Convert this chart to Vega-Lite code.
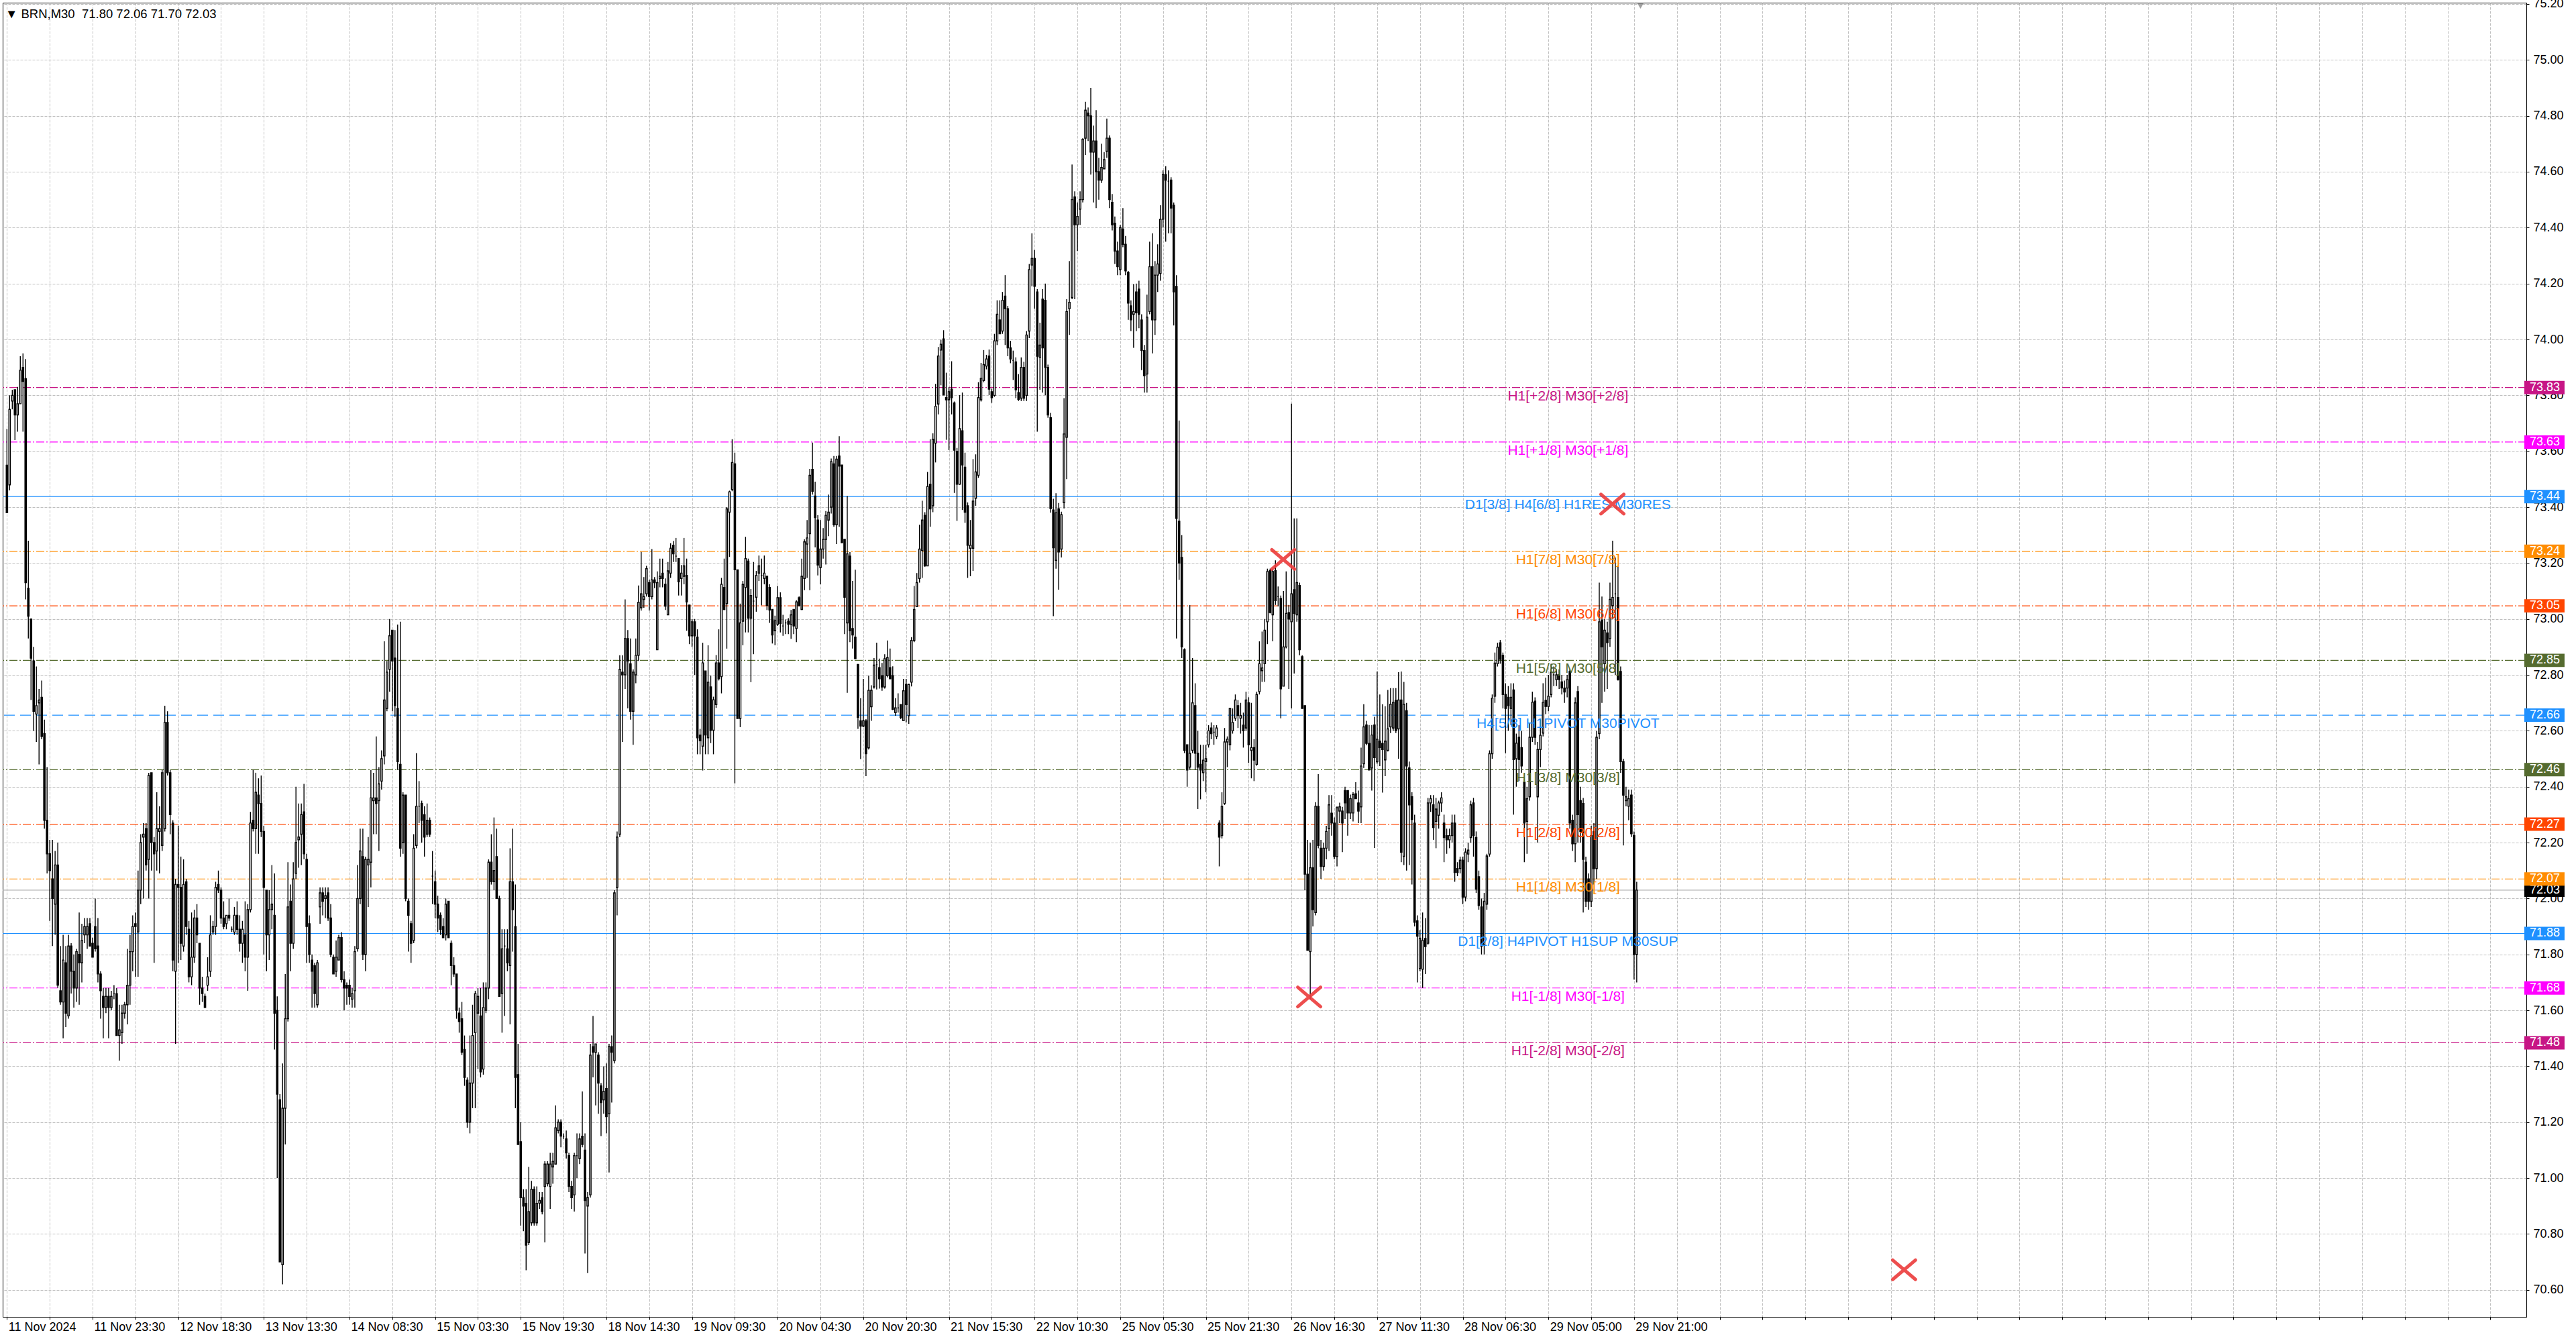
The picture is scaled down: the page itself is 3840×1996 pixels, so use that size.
{
  "$schema": "https://vega.github.io/schema/vega-lite/v6.json",
  "description": "BRN M30 candlesticks with Murrey math levels, recreated from an MT4 screenshot.",
  "width": 3762,
  "height": 1959,
  "autosize": {"type": "none"},
  "padding": {"left": 4, "top": 4, "right": 74, "bottom": 33},
  "background": "#ffffff",
  "title": {
    "text": "\u25bc BRN,M30\u00a0 71.80 72.06 71.70 72.03",
    "anchor": "start",
    "frame": "group",
    "offset": 0,
    "dy": 49,
    "baseline": "alphabetic",
    "dx": 4,
    "font": "Liberation Sans, sans-serif",
    "fontSize": 18.5,
    "fontWeight": "normal",
    "color": "#000000"
  },
  "config": {
    "view": {"stroke": "#000000", "strokeWidth": 1},
    "axis": {
      "labelFont": "Liberation Sans, sans-serif",
      "labelFontSize": 18,
      "labelColor": "#000000",
      "domainColor": "#000000",
      "tickColor": "#000000",
      "gridColor": "#c0c0c0",
      "title": null
    }
  },
  "layer": [
    {
      "data": {"values": [
        {"p": 73.828, "name": "H1[+2/8] M30[+2/8]"},
        {"p": 73.633, "name": "H1[+1/8] M30[+1/8]"},
        {"p": 73.438, "name": "D1[3/8] H4[6/8] H1RES M30RES"},
        {"p": 73.242, "name": "H1[7/8] M30[7/8]"},
        {"p": 73.047, "name": "H1[6/8] M30[6/8]"},
        {"p": 72.852, "name": "H1[5/8] M30[5/8]"},
        {"p": 72.656, "name": "H4[5/8] H1PIVOT M30PIVOT"},
        {"p": 72.461, "name": "H1[3/8] M30[3/8]"},
        {"p": 72.266, "name": "H1[2/8] M30[2/8]"},
        {"p": 72.070, "name": "H1[1/8] M30[1/8]"},
        {"p": 71.875, "name": "D1[2/8] H4PIVOT H1SUP M30SUP"},
        {"p": 71.680, "name": "H1[-1/8] M30[-1/8]"},
        {"p": 71.484, "name": "H1[-2/8] M30[-2/8]"}
      ]},
      "mark": {"type": "rule", "strokeWidth": 1.2},
      "encoding": {
        "y": {
          "field": "p", "type": "quantitative",
          "scale": {"domain": [70.5035, 75.2047], "nice": false, "zero": false},
          "axis": {
            "orient": "right",
            "values": [70.6,70.8,71,71.2,71.4,71.6,71.8,72,72.2,72.4,72.6,72.8,73,73.2,73.4,73.6,73.8,74,74.2,74.4,74.6,74.8,75,75.2],
            "format": ".2f",
            "grid": true,
            "gridDash": [4, 2],
            "tickSize": 4,
            "labelPadding": 6,
            "labelAlign": "left",
            "labelBaseline": "middle",
            "labelFlush": false,
            "labelOverlap": false,
            "labelBound": false
          }
        },
        "color": {
          "field": "name", "type": "nominal", "legend": null,
          "scale": {
            "domain": ["H1[+2/8] M30[+2/8]","H1[+1/8] M30[+1/8]","D1[3/8] H4[6/8] H1RES M30RES","H1[7/8] M30[7/8]","H1[6/8] M30[6/8]","H1[5/8] M30[5/8]","H4[5/8] H1PIVOT M30PIVOT","H1[3/8] M30[3/8]","H1[2/8] M30[2/8]","H1[1/8] M30[1/8]","D1[2/8] H4PIVOT H1SUP M30SUP","H1[-1/8] M30[-1/8]","H1[-2/8] M30[-2/8]"],
            "range": ["#c71585","#ff00ff","#1e90ff","#ff8c00","#ff4500","#556b2f","#1e90ff","#556b2f","#ff4500","#ff8c00","#1e90ff","#ff00ff","#c71585"]
          }
        },
        "strokeDash": {
          "field": "name", "type": "nominal", "legend": null,
          "scale": {
            "domain": ["H1[+2/8] M30[+2/8]","H1[+1/8] M30[+1/8]","D1[3/8] H4[6/8] H1RES M30RES","H1[7/8] M30[7/8]","H1[6/8] M30[6/8]","H1[5/8] M30[5/8]","H4[5/8] H1PIVOT M30PIVOT","H1[3/8] M30[3/8]","H1[2/8] M30[2/8]","H1[1/8] M30[1/8]","D1[2/8] H4PIVOT H1SUP M30SUP","H1[-1/8] M30[-1/8]","H1[-2/8] M30[-2/8]"],
            "range": [[12,3,2,3],[12,3,2,3],[1,0],[12,3,2,3],[12,3,2,3],[12,3,2,3],[16,8],[12,3,2,3],[12,3,2,3],[12,3,2,3],[1,0],[12,3,2,3],[12,3,2,3]]
          }
        }
      }
    },
    {
      "data": {"values": [{"p": 72.03}]},
      "mark": {"type": "rule", "color": "#b0b0b0", "strokeWidth": 1.2},
      "encoding": {"y": {"field": "p", "type": "quantitative"}}
    },
    {
      "data": {
        "values": "i,o,h,l,c\n1,73.55,73.68,73.38,73.38\n2,73.48,73.80,73.46,73.75\n3,73.78,73.82,73.75,73.80\n4,73.82,73.82,73.64,73.73\n5,73.73,73.83,73.67,73.77\n6,73.77,73.94,73.77,73.89\n7,73.90,73.95,73.67,73.85\n8,73.86,73.93,73.07,73.13\n9,73.11,73.28,72.93,73.01\n10,73.00,73.00,72.71,72.86\n11,72.85,72.90,72.60,72.67\n12,72.66,72.83,72.56,72.69\n13,72.70,72.75,72.48,72.71\n14,72.72,72.78,72.57,72.58\n15,72.59,72.64,72.25,72.28\n16,72.28,72.47,72.09,72.16\n17,72.16,72.21,71.92,72.10\n18,72.07,72.21,71.83,72.00\n19,71.98,72.17,71.87,72.12\n20,72.12,72.20,71.68,71.69\n21,71.67,71.83,71.62,71.63\n22,71.63,71.87,71.50,71.78\n23,71.77,71.83,71.54,71.59\n24,71.58,71.87,71.57,71.83\n25,71.83,71.84,71.66,71.74\n26,71.74,71.80,71.61,71.68\n27,71.68,71.82,71.63,71.81\n28,71.80,71.95,71.62,71.77\n29,71.77,71.91,71.70,71.85\n30,71.87,71.93,71.84,71.90\n31,71.87,71.93,71.82,71.90\n32,71.91,71.93,71.83,71.83\n33,71.84,71.86,71.79,71.79\n34,71.90,72.00,71.81,71.82\n35,71.83,71.93,71.70,71.73\n36,71.73,71.74,71.57,71.67\n37,71.65,71.68,71.50,71.61\n38,71.61,71.68,71.59,71.65\n39,71.65,71.68,71.50,71.61\n40,71.61,71.67,71.60,71.65\n41,71.66,71.69,71.64,71.66\n42,71.66,71.68,71.51,71.51\n43,71.51,71.62,71.42,71.53\n44,71.52,71.62,71.48,71.59\n45,71.59,71.63,71.57,71.62\n46,71.62,71.82,71.55,71.69\n47,71.69,71.87,71.62,71.81\n48,71.81,71.94,71.74,71.90\n49,71.91,71.95,71.72,71.90\n50,71.88,72.10,71.72,72.03\n51,72.03,72.23,71.98,72.20\n52,72.22,72.27,72.00,72.23\n53,72.25,72.27,72.10,72.12\n54,72.14,72.45,72.00,72.44\n55,72.45,72.45,72.10,72.20\n56,72.20,72.22,71.77,72.16\n57,72.17,72.38,72.10,72.25\n58,72.24,72.33,72.09,72.25\n59,72.19,72.46,72.17,72.45\n60,72.25,72.69,72.24,72.63\n61,72.63,72.67,72.44,72.45\n62,72.45,72.46,72.23,72.30\n63,72.27,72.28,71.74,71.78\n64,71.74,72.07,71.48,72.05\n65,72.05,72.26,71.77,72.04\n66,72.04,72.15,71.78,71.84\n67,71.83,72.14,71.81,72.05\n68,72.06,72.07,71.87,71.90\n69,71.89,71.92,71.70,71.72\n70,71.72,71.95,71.69,71.79\n71,71.79,71.96,71.77,71.93\n72,71.93,71.98,71.84,71.87\n73,71.84,71.84,71.62,71.68\n74,71.68,71.72,71.63,71.66\n75,71.65,71.66,71.61,71.61\n76,71.69,71.79,71.67,71.72\n77,71.74,71.94,71.72,71.87\n78,71.88,71.92,71.87,71.90\n79,71.90,72.06,71.87,72.04\n80,72.05,72.10,72.02,72.03\n81,72.03,72.04,71.91,71.93\n82,71.93,71.99,71.89,71.90\n83,71.91,71.94,71.89,71.94\n84,71.94,72.00,71.92,71.93\n85,71.89,71.90,71.88,71.89\n86,71.88,71.97,71.87,71.94\n87,71.94,71.99,71.87,71.89\n88,71.89,71.94,71.81,71.84\n89,71.84,71.92,71.77,71.89\n90,71.87,71.99,71.74,71.79\n91,71.79,71.98,71.67,71.96\n92,71.96,72.31,71.95,72.27\n93,72.28,72.46,72.24,72.25\n94,72.25,72.45,72.16,72.38\n95,72.37,72.43,72.16,72.34\n96,72.34,72.44,72.22,72.24\n97,72.24,72.26,71.80,72.04\n98,72.03,72.03,71.74,71.87\n99,71.87,72.03,71.78,71.96\n100,71.96,72.12,71.89,71.98\n101,71.94,72.09,71.46,71.59\n102,71.60,71.65,71.00,71.30\n103,71.28,71.30,70.70,70.70\n104,70.69,71.41,70.62,71.25\n105,71.25,71.73,71.12,71.57\n106,71.57,72.13,71.56,71.97\n107,71.99,72.05,71.74,71.84\n108,71.84,72.13,71.82,72.07\n109,72.09,72.40,72.07,72.20\n110,72.21,72.34,72.11,72.22\n111,72.23,72.34,72.12,72.30\n112,72.31,72.41,72.14,72.16\n113,72.14,72.16,71.77,71.90\n114,71.91,71.94,71.77,71.80\n115,71.78,71.80,71.61,71.74\n116,71.76,71.77,71.61,71.66\n117,71.62,71.78,71.61,71.77\n118,71.97,72.04,71.91,72.02\n119,72.02,72.04,71.94,71.99\n120,72.00,72.04,71.93,72.01\n121,72.02,72.04,71.92,71.93\n122,71.93,71.98,71.79,71.80\n123,71.79,71.80,71.73,71.73\n124,71.74,71.85,71.72,71.79\n125,71.78,71.87,71.78,71.86\n126,71.86,71.88,71.70,71.71\n127,71.71,71.74,71.60,71.68\n128,71.69,71.70,71.62,71.68\n129,71.69,71.71,71.62,71.65\n130,71.64,71.68,71.61,71.66\n131,71.67,71.83,71.61,71.81\n132,71.82,72.12,71.81,72.00\n133,72.00,72.25,71.98,72.17\n134,72.15,72.25,71.78,71.80\n135,71.80,72.15,71.74,72.14\n136,72.12,72.22,71.97,72.14\n137,72.13,72.46,72.04,72.36\n138,72.35,72.45,72.23,72.36\n139,72.36,72.58,72.23,72.34\n140,72.35,72.47,72.17,72.41\n141,72.42,72.53,72.39,72.50\n142,72.51,72.92,72.48,72.71\n143,72.68,72.85,72.67,72.81\n144,72.82,73.00,72.74,72.94\n145,72.96,72.96,72.67,72.85\n146,72.86,72.96,72.65,72.69\n147,72.68,72.98,72.46,72.49\n148,72.48,72.99,72.15,72.18\n149,72.20,72.38,72.16,72.37\n150,72.37,72.37,71.99,72.00\n151,71.99,72.00,71.81,71.94\n152,71.91,71.92,71.77,71.84\n153,71.85,72.23,71.84,72.18\n154,72.19,72.52,72.18,72.33\n155,72.33,72.42,72.27,72.33\n156,72.34,72.35,72.20,72.28\n157,72.30,72.33,72.15,72.22\n158,72.23,72.34,72.22,72.28\n159,72.28,72.29,72.22,72.23\n160,72.08,72.17,71.98,72.08\n161,72.06,72.10,71.93,71.98\n162,71.98,72.01,71.88,71.93\n163,71.94,71.95,71.87,71.89\n164,71.90,71.93,71.86,71.86\n165,71.87,72.00,71.85,71.98\n166,71.99,71.99,71.86,71.86\n167,71.84,71.85,71.69,71.76\n168,71.76,71.79,71.72,71.73\n169,71.73,71.73,71.57,71.60\n170,71.59,71.61,71.52,71.56\n171,71.57,71.63,71.44,71.45\n172,71.46,71.51,71.33,71.36\n173,71.35,71.36,71.18,71.20\n174,71.20,71.51,71.16,71.34\n175,71.34,71.62,71.25,71.51\n176,71.52,71.67,71.25,71.66\n177,71.59,71.68,71.39,71.65\n178,71.58,71.68,71.36,71.38\n179,71.39,71.70,71.37,71.61\n180,71.60,71.70,71.59,71.68\n181,71.68,72.14,71.64,72.13\n182,72.13,72.23,72.05,72.06\n183,72.06,72.29,72.03,72.10\n184,72.15,72.25,72.00,72.00\n185,72.00,72.01,71.65,71.65\n186,71.66,71.89,71.52,71.82\n187,71.83,71.89,71.58,71.83\n188,71.82,71.89,71.74,71.77\n189,71.76,72.18,71.55,72.06\n190,72.06,72.25,71.81,71.96\n191,71.90,72.05,71.25,71.36\n192,71.37,71.48,71.12,71.12\n193,71.13,71.20,70.83,70.93\n194,70.93,70.96,70.81,70.90\n195,70.91,70.96,70.67,70.76\n196,70.77,71.04,70.76,70.88\n197,70.84,70.99,70.83,70.96\n198,70.96,70.97,70.83,70.84\n199,70.84,70.97,70.83,70.91\n200,70.91,70.95,70.89,70.92\n201,70.93,70.95,70.87,70.88\n202,70.97,71.06,70.77,71.05\n203,70.98,71.06,70.97,71.05\n204,70.97,71.09,70.89,71.05\n205,71.04,71.09,70.98,71.06\n206,71.05,71.26,71.05,71.18\n207,71.17,71.21,71.16,71.20\n208,71.20,71.21,71.11,71.15\n209,71.15,71.16,71.14,71.15\n210,71.14,71.17,71.07,71.09\n211,71.08,71.09,70.95,70.97\n212,70.97,70.99,70.89,70.93\n213,70.94,71.09,70.88,71.08\n214,71.08,71.16,71.00,71.08\n215,71.07,71.16,71.05,71.14\n216,71.15,71.31,71.11,71.12\n217,71.10,71.16,70.73,70.92\n218,70.90,70.95,70.66,70.93\n219,70.94,71.48,70.93,71.44\n220,71.47,71.58,71.36,71.45\n221,71.45,71.48,71.26,71.48\n222,71.44,71.45,71.23,71.34\n223,71.33,71.34,71.15,71.27\n224,71.28,71.40,71.23,71.31\n225,71.32,71.41,71.16,71.22\n226,71.23,71.48,71.02,71.47\n227,71.47,71.51,71.27,71.45\n228,71.42,72.03,71.41,72.02\n229,72.04,72.24,71.94,72.22\n230,72.23,72.87,72.22,72.82\n231,72.81,72.87,72.56,72.80\n232,72.80,73.07,72.75,72.93\n233,72.93,72.96,72.68,72.85\n234,72.84,72.93,72.64,72.67\n235,72.67,72.82,72.55,72.81\n236,72.80,72.93,72.77,72.87\n237,72.87,73.12,72.85,73.06\n238,73.04,73.24,73.03,73.09\n239,73.07,73.15,73.04,73.08\n240,73.09,73.19,73.08,73.18\n241,73.13,73.14,73.03,73.08\n242,73.08,73.25,73.07,73.14\n243,73.14,73.15,73.11,73.13\n244,72.89,73.17,72.89,73.13\n245,73.145,73.216,73.113,73.153\n246,73.164,73.216,73.113,73.145\n247,73.124,73.145,73.032,73.046\n248,73.015,73.204,73.015,73.172\n249,73.164,73.271,73.147,73.253\n250,73.264,73.279,73.204,73.233\n251,73.225,73.29,73.204,73.225\n252,73.216,73.216,73.084,73.133\n253,73.145,73.193,73.084,73.164\n254,73.153,73.29,73.124,73.19\n255,73.156,73.216,72.958,73.061\n256,73.05,73.05,72.91,72.94\n257,72.94,73.00,72.90,72.99\n258,72.99,73.00,72.80,72.94\n259,72.935,72.963,72.516,72.575\n260,72.585,72.607,72.516,72.564\n261,72.545,72.915,72.458,72.843\n262,72.814,72.814,72.516,72.585\n263,72.575,72.906,72.516,72.774\n264,72.757,72.797,72.556,72.602\n265,72.602,72.722,72.516,72.711\n266,72.694,72.871,72.682,72.843\n267,72.843,72.963,72.78,72.786\n268,72.794,73.147,72.734,73.124\n269,73.113,73.216,73.032,73.034\n270,73.055,73.40,72.894,73.394\n271,73.382,73.459,73.222,73.455\n272,73.463,73.643,73.457,73.56\n273,73.555,73.595,72.412,73.176\n274,73.176,73.176,72.644,72.644\n275,72.644,73.055,72.613,72.986\n276,72.992,73.136,72.906,73.124\n277,73.113,73.294,72.952,73.216\n278,73.207,73.216,72.952,73.003\n279,73.003,73.107,72.774,73.084\n280,73.064,73.204,72.874,73.064\n281,73.078,73.172,73.026,73.156\n282,73.164,73.227,73.136,73.19\n283,73.156,73.216,73.049,73.156\n284,73.145,73.227,73.124,73.164\n285,73.153,73.153,73.032,73.049\n286,73.113,73.124,72.986,73.032\n287,73.034,73.034,72.912,72.943\n288,72.958,73.012,72.906,72.994\n289,72.981,73.118,72.975,73.076\n290,73.076,73.095,72.952,72.984\n291,72.975,73.015,72.94,72.975\n292,72.986,72.998,72.946,72.986\n293,72.992,73.003,72.946,72.981\n294,72.981,73.032,72.929,73.015\n295,73.034,73.034,72.946,72.975\n296,72.966,73.067,72.917,73.061\n297,73.076,73.081,73.044,73.049\n298,73.034,73.216,73.032,73.153\n299,73.145,73.285,73.103,73.276\n300,73.268,73.354,73.147,73.29\n301,73.305,73.537,73.103,73.514\n302,73.535,73.631,73.445,73.457\n303,73.44,73.491,73.256,73.363\n304,73.354,73.371,73.156,73.193\n305,73.184,73.354,73.124,73.25\n306,73.25,73.325,73.216,73.285\n307,73.285,73.386,73.195,73.371\n308,73.354,73.445,73.296,73.382\n309,73.40,73.574,73.377,73.563\n310,73.555,73.583,73.33,73.337\n311,73.337,73.583,73.268,73.572\n312,73.583,73.654,73.33,73.547\n313,73.551,73.551,73.273,73.273\n314,73.285,73.285,72.946,73.078\n315,72.986,73.44,72.736,73.233\n316,73.225,73.239,72.917,72.958\n317,72.966,73.136,72.894,72.943\n318,72.935,73.176,72.858,72.858\n319,72.837,72.84,72.607,72.648\n320,72.636,72.717,72.499,72.617\n321,72.617,72.786,72.613,72.636\n322,72.636,72.642,72.438,72.518\n323,72.539,72.797,72.533,72.745\n324,72.686,72.763,72.636,72.745\n325,72.757,72.86,72.751,72.835\n326,72.837,72.915,72.748,72.837\n327,72.826,72.858,72.751,72.786\n328,72.797,72.843,72.743,72.757\n329,72.757,72.874,72.751,72.858\n330,72.797,72.923,72.791,72.862\n331,72.826,72.894,72.786,72.786\n332,72.797,72.831,72.674,72.677\n333,72.665,72.717,72.654,72.682\n334,72.682,72.734,72.665,72.682\n335,72.694,72.694,72.642,72.648\n336,72.636,72.786,72.636,72.743\n337,72.766,72.786,72.63,72.694\n338,72.654,72.768,72.625,72.766\n339,72.774,72.935,72.759,72.923\n340,72.923,73.118,72.917,73.034\n341,73.044,73.164,73.044,73.13\n342,73.145,73.337,73.13,73.25\n343,73.245,73.423,73.147,73.354\n344,73.371,73.382,73.187,73.19\n345,73.19,73.526,73.19,73.474\n346,73.482,73.643,73.33,73.394\n347,73.405,73.664,73.382,73.643\n348,73.629,73.841,73.56,73.761\n349,73.769,73.973,73.732,73.941\n350,73.962,73.999,73.836,73.983\n351,74.002,74.033,73.801,73.801\n352,73.792,73.881,73.641,73.784\n353,73.784,73.83,73.604,73.813\n354,73.822,73.922,73.732,73.792\n355,73.773,73.778,73.451,73.604\n356,73.60,73.612,73.351,73.482\n357,73.482,73.801,73.48,73.681\n358,73.673,73.81,73.39,73.551\n359,73.543,73.595,73.344,73.382\n360,73.405,73.417,73.147,73.264\n361,73.253,73.354,73.153,73.264\n362,73.253,73.572,73.172,73.422\n363,73.432,73.589,73.405,73.526\n364,73.514,73.847,73.505,73.792\n365,73.784,73.916,73.778,73.861\n366,73.853,73.962,73.847,73.91\n367,73.905,73.945,73.893,73.93\n368,73.941,73.964,73.801,73.822\n369,73.813,73.824,73.773,73.792\n370,73.80,74.02,73.795,73.995\n371,73.995,74.14,73.98,74.09\n372,74.07,74.14,74.02,74.02\n373,74.03,74.17,74.02,74.14\n374,74.155,74.23,73.98,74.11\n375,74.11,74.12,73.94,73.97\n376,73.97,73.995,73.915,73.93\n377,73.925,73.96,73.855,73.925\n378,73.92,73.936,73.79,73.82\n379,73.81,73.876,73.78,73.786\n380,73.79,73.936,73.78,73.90\n381,73.90,73.92,73.78,73.79\n382,73.80,74.03,73.78,74.016\n383,74.03,74.27,74.005,74.25\n384,74.266,74.38,74.19,74.29\n385,74.29,74.32,74.11,74.19\n386,74.17,74.18,73.67,73.94\n387,73.936,74.06,73.82,73.98\n388,74.144,74.18,73.81,73.97\n389,74.14,74.20,73.80,73.90\n390,73.90,73.91,73.72,73.73\n391,73.72,73.737,73.38,73.395\n392,73.39,73.43,73.01,73.255\n393,73.21,73.45,73.18,73.38\n394,73.394,73.415,73.105,73.24\n395,73.25,73.384,73.22,73.373\n396,73.416,73.79,73.395,73.662\n397,73.65,74.144,73.50,74.10\n398,74.11,74.28,74.016,74.133\n399,74.15,74.626,74.144,74.50\n400,74.51,74.53,74.144,74.41\n401,74.41,74.49,74.316,74.44\n402,74.466,74.53,74.41,74.50\n403,74.50,74.72,74.49,74.716\n404,74.72,74.85,74.66,74.82\n405,74.81,74.83,74.71,74.80\n406,74.80,74.90,74.59,74.67\n407,74.67,74.765,74.49,74.71\n408,74.71,74.82,74.47,74.60\n409,74.60,74.65,74.50,74.57\n410,74.57,74.70,74.56,74.615\n411,74.61,74.67,74.61,74.643\n412,74.673,74.79,74.65,74.72\n413,74.72,74.73,74.47,74.50\n414,74.49,74.52,74.39,74.41\n415,74.416,74.44,74.27,74.316\n416,74.316,74.35,74.23,74.26\n417,74.25,74.41,74.23,74.40\n418,74.395,74.47,74.33,74.34\n419,74.34,74.37,74.23,74.245\n420,74.24,74.245,74.07,74.13\n421,74.12,74.14,74.03,74.07\n422,74.09,74.198,73.97,74.10\n423,74.17,74.20,74.03,74.095\n424,74.18,74.21,74.04,74.09\n425,74.07,74.09,73.89,73.96\n426,73.96,73.98,73.81,73.87\n427,73.876,74.16,73.81,74.08\n428,74.10,74.35,74.09,74.26\n429,74.26,74.38,73.95,74.07\n430,74.07,74.28,74.016,74.23\n431,74.23,74.34,74.17,74.27\n432,74.236,74.48,74.21,74.43\n433,74.43,74.605,74.40,74.59\n434,74.59,74.62,74.35,74.57\n435,74.566,74.605,74.38,74.566\n436,74.57,74.58,74.38,74.47\n437,74.48,74.49,74.05,74.17\n438,74.19,74.23,72.93,73.36\n439,73.35,73.71,73.14,73.20\n440,73.22,73.30,72.86,72.90\n441,72.89,72.895,72.52,72.53\n442,72.55,72.55,72.40,72.46\n443,72.47,73.05,72.46,72.52\n444,72.53,72.86,72.52,72.70\n445,72.69,72.77,72.46,72.52\n446,72.52,72.60,72.32,72.47\n447,72.48,72.55,72.355,72.46\n448,72.45,72.55,72.42,72.495\n449,72.49,72.55,72.38,72.50\n450,72.55,72.62,72.54,72.60\n451,72.61,72.63,72.57,72.59\n452,72.595,72.62,72.55,72.595\n453,72.58,72.62,72.57,72.61\n454,72.27,72.28,72.115,72.22\n455,72.225,72.38,72.215,72.33\n456,72.34,72.61,72.335,72.56\n457,72.56,72.58,72.47,72.57\n458,72.55,72.68,72.53,72.68\n459,72.60,72.68,72.59,72.63\n460,72.645,72.73,72.635,72.71\n461,72.69,72.71,72.61,72.655\n462,72.645,72.70,72.59,72.655\n463,72.62,72.665,72.54,72.60\n464,72.61,72.74,72.60,72.71\n465,72.70,72.72,72.485,72.55\n466,72.53,72.70,72.43,72.54\n467,72.54,72.57,72.42,72.495\n468,72.48,72.74,72.475,72.73\n469,72.74,72.92,72.73,72.84\n470,72.815,72.955,72.775,72.825\n471,72.84,73.00,72.775,72.96\n472,72.99,73.18,72.91,73.17\n473,73.173,73.18,73.02,73.023\n474,73.015,73.18,72.92,73.17\n475,73.173,73.21,73.05,73.066\n476,73.08,73.116,73.045,73.08\n477,73.073,73.084,72.645,72.75\n478,72.76,73.10,72.76,72.90\n479,72.90,73.17,72.895,73.02\n480,73.023,73.05,72.75,73.00\n481,72.99,73.77,72.68,73.09\n482,73.105,73.36,72.805,73.02\n483,73.015,73.36,72.99,73.13\n484,73.12,73.13,72.87,72.89\n485,72.865,72.87,72.68,72.68\n486,72.69,72.69,72.03,72.087\n487,72.087,72.21,71.815,71.815\n488,71.81,72.20,71.64,72.11\n489,72.11,72.21,71.90,71.96\n490,71.95,72.345,71.94,72.33\n491,72.33,72.445,72.18,72.19\n492,72.18,72.21,72.07,72.115\n493,72.115,72.20,72.10,72.18\n494,72.18,72.26,72.14,72.24\n495,72.25,72.37,72.17,72.335\n496,72.305,72.37,72.225,72.27\n497,72.27,72.29,72.14,72.15\n498,72.15,72.33,72.115,72.325\n499,72.313,72.343,72.27,72.328\n500,72.313,72.328,72.166,72.27\n501,72.386,72.40,72.284,72.342\n502,72.386,72.386,72.225,72.306\n503,72.306,72.372,72.284,72.357\n504,72.306,72.38,72.276,72.372\n505,72.375,72.416,72.357,72.357\n506,72.342,72.386,72.27,72.313\n507,72.328,72.54,72.27,72.474\n508,72.482,72.695,72.467,72.614\n509,72.621,72.636,72.548,72.555\n510,72.555,72.621,72.46,72.46\n511,72.467,72.621,72.386,72.585\n512,72.621,72.65,72.181,72.504\n513,72.489,72.812,72.482,72.57\n514,72.563,72.73,72.474,72.54\n515,72.555,72.695,72.379,72.533\n516,72.496,72.688,72.438,72.563\n517,72.53,72.746,72.526,72.607\n518,72.614,72.753,72.592,72.695\n519,72.61,72.753,72.60,72.702\n520,72.709,72.753,72.592,72.60\n521,72.607,72.81,72.50,72.71\n522,72.71,72.812,72.13,72.166\n523,72.151,72.775,72.12,72.695\n524,72.672,72.70,72.10,72.474\n525,72.467,72.49,72.12,72.335\n526,72.364,72.38,72.05,72.283\n527,72.27,72.30,71.90,71.915\n528,71.92,71.94,71.70,71.865\n529,71.75,71.887,71.74,71.857\n530,71.747,71.95,71.68,71.85\n531,71.857,71.93,71.73,71.828\n532,71.84,72.36,71.835,72.342\n533,72.342,72.37,72.31,72.357\n534,72.335,72.37,72.21,72.254\n535,72.276,72.36,72.18,72.32\n536,72.298,72.35,72.25,72.342\n537,72.342,72.38,72.31,72.36\n538,72.27,72.30,72.13,72.218\n539,72.225,72.25,72.16,72.21\n540,72.21,72.25,72.18,72.225\n541,72.225,72.30,72.20,72.27\n542,72.27,72.30,72.06,72.093\n543,72.107,72.13,72.08,72.093\n544,72.107,72.15,72.09,72.137\n545,72.137,72.15,71.98,72.005\n546,72.005,72.18,71.99,72.166\n547,72.159,72.20,72.13,72.173\n548,72.218,72.35,72.20,72.335\n549,72.342,72.36,72.15,72.225\n550,72.218,72.24,72.02,72.034\n551,72.078,72.10,71.96,71.975\n552,71.97,72.00,71.80,71.83\n553,71.835,72.02,71.80,71.99\n554,71.98,72.16,71.96,72.152\n555,72.159,72.53,72.15,72.518\n556,72.518,72.73,72.50,72.717\n557,72.724,72.88,72.70,72.842\n558,72.84,72.915,72.83,72.899\n559,72.915,72.925,72.84,72.856\n560,72.87,72.88,72.68,72.73\n561,72.73,72.77,72.52,72.68\n562,72.72,72.76,72.60,72.69\n563,72.68,72.77,72.62,72.72\n564,72.746,72.77,72.30,72.497\n565,72.50,72.59,72.40,72.556\n566,72.577,72.62,72.42,72.497\n567,72.54,72.60,72.45,72.474\n568,72.416,72.43,72.13,72.27\n569,72.276,72.40,72.16,72.357\n570,72.364,72.63,72.35,72.577\n571,72.577,72.74,72.56,72.702\n572,72.706,72.72,72.55,72.577\n573,72.364,72.56,72.20,72.533\n574,72.533,72.64,72.47,72.584\n575,72.592,72.77,72.58,72.702\n576,72.709,72.79,72.66,72.687\n577,72.687,72.80,72.67,72.724\n578,72.73,72.84,72.72,72.81\n579,72.80,72.83,72.76,72.80\n580,72.783,72.82,72.76,72.80\n581,72.80,72.82,72.75,72.783\n582,72.775,72.80,72.73,72.753\n583,72.753,72.78,72.70,72.739\n584,72.753,72.80,72.72,72.783\n585,72.812,72.82,72.25,72.27\n586,72.28,72.30,72.17,72.196\n587,72.196,72.72,72.13,72.70\n588,72.74,72.76,72.20,72.30\n589,72.35,72.40,72.20,72.24\n590,72.34,72.36,71.95,72.14\n591,72.13,72.15,71.97,71.99\n592,72.07,72.09,71.96,71.99\n593,71.99,72.26,71.97,72.225\n594,72.24,72.27,72.05,72.107\n595,72.107,72.60,72.07,72.577\n596,72.59,73.13,72.57,72.99\n597,72.996,73.08,72.70,72.90\n598,72.84,73.00,72.74,72.96\n599,72.95,72.99,72.75,72.915\n600,72.93,73.13,72.90,73.07\n601,73.048,73.28,73.00,73.077\n602,73.09,73.22,72.80,73.09\n603,73.077,73.19,72.78,72.783\n604,72.812,72.83,72.45,72.49\n605,72.49,72.50,72.19,72.37\n606,72.35,72.40,72.33,72.364\n607,72.33,72.39,72.28,72.357\n608,72.37,72.39,72.22,72.232\n609,72.225,72.24,71.71,71.80\n610,71.80,72.06,71.70,72.03",
        "format": {"type": "csv", "parse": "auto"}
      },
      "layer": [
        {
          "mark": {"type": "rule", "color": "#000000", "strokeWidth": 1.4},
          "encoding": {
            "x": {
              "field": "i", "type": "quantitative",
              "scale": {"domain": [0.667, 941.167], "nice": false, "zero": false},
              "axis": {
                "orient": "bottom",
                "values": [1,17,33,49,65,81,97,113,129,145,161,177,193,209,225,241,257,273,289,305,321,337,353,369,385,401,417,433,449,465,481,497,513,529,545,561,577,593,609,625,641,657,673,689,705,721,737,753,769,785,801,817,833,849,865,881,897,913,929],
                "labelExpr": "datum.value % 32 == 1 && datum.value < 640 ? ['11 Nov 2024','11 Nov 23:30','12 Nov 18:30','13 Nov 13:30','14 Nov 08:30','15 Nov 03:30','15 Nov 19:30','18 Nov 14:30','19 Nov 09:30','20 Nov 04:30','20 Nov 20:30','21 Nov 15:30','22 Nov 10:30','25 Nov 05:30','25 Nov 21:30','26 Nov 16:30','27 Nov 11:30','28 Nov 06:30','29 Nov 05:00','29 Nov 21:00'][floor(datum.value / 32)] : ''",
                "grid": true,
                "gridDash": [4, 2],
                "tickSize": 4,
                "labelPadding": 16,
                "labelAlign": "left",
                "labelBaseline": "alphabetic",
                "labelOffset": 2,
                "labelFlush": false,
                "labelOverlap": false,
                "labelBound": false
              }
            },
            "y": {"field": "l", "type": "quantitative"},
            "y2": {"field": "h"}
          }
        },
        {
          "mark": {"type": "bar", "width": 2.2, "stroke": "#000000", "strokeWidth": 1.4},
          "encoding": {
            "x": {"field": "i", "type": "quantitative"},
            "y": {"field": "o", "type": "quantitative"},
            "y2": {"field": "c"},
            "fill": {"condition": {"test": "datum.o > datum.c", "value": "#000000"}, "value": "#ffffff"}
          }
        }
      ]
    },
    {
      "data": {"values": [
        {"p": 73.828, "name": "H1[+2/8] M30[+2/8]"},
        {"p": 73.633, "name": "H1[+1/8] M30[+1/8]"},
        {"p": 73.438, "name": "D1[3/8] H4[6/8] H1RES M30RES"},
        {"p": 73.242, "name": "H1[7/8] M30[7/8]"},
        {"p": 73.047, "name": "H1[6/8] M30[6/8]"},
        {"p": 72.852, "name": "H1[5/8] M30[5/8]"},
        {"p": 72.656, "name": "H4[5/8] H1PIVOT M30PIVOT"},
        {"p": 72.461, "name": "H1[3/8] M30[3/8]"},
        {"p": 72.266, "name": "H1[2/8] M30[2/8]"},
        {"p": 72.070, "name": "H1[1/8] M30[1/8]"},
        {"p": 71.875, "name": "D1[2/8] H4PIVOT H1SUP M30SUP"},
        {"p": 71.680, "name": "H1[-1/8] M30[-1/8]"},
        {"p": 71.484, "name": "H1[-2/8] M30[-2/8]"}
      ]},
      "layer": [
        {
          "mark": {"type": "text", "align": "center", "baseline": "top", "dy": 2, "font": "Liberation Sans, sans-serif", "fontSize": 21},
          "encoding": {
            "x": {"datum": 584.3, "type": "quantitative"},
            "y": {"field": "p", "type": "quantitative"},
            "text": {"field": "name"},
            "color": {"field": "name", "type": "nominal", "legend": null}
          }
        },
        {
          "data": {"values": [{"p": 72.03}]},
          "mark": {"type": "point", "shape": "M-1,-0.333H1V0.333H-1Z", "size": 3600, "filled": true, "opacity": 1, "color": "#000000", "strokeWidth": 0},
          "encoding": {
            "x": {"datum": 949.17, "type": "quantitative"},
            "y": {"field": "p", "type": "quantitative"}
          }
        },
        {
          "data": {"values": [{"p": 72.03}]},
          "mark": {"type": "text", "align": "left", "baseline": "middle", "color": "#ffffff", "font": "Liberation Sans, sans-serif", "fontSize": 18},
          "encoding": {
            "x": {"datum": 943.67, "type": "quantitative"},
            "y": {"field": "p", "type": "quantitative"},
            "text": {"field": "p", "type": "quantitative", "format": ".2f"}
          }
        },
        {
          "mark": {"type": "point", "shape": "M-1,-0.333H1V0.333H-1Z", "size": 3600, "filled": true, "opacity": 1, "strokeWidth": 0},
          "encoding": {
            "x": {"datum": 949.17, "type": "quantitative"},
            "y": {"field": "p", "type": "quantitative"},
            "color": {"field": "name", "type": "nominal", "legend": null}
          }
        },
        {
          "mark": {"type": "text", "align": "left", "baseline": "middle", "color": "#ffffff", "font": "Liberation Sans, sans-serif", "fontSize": 18},
          "encoding": {
            "x": {"datum": 943.67, "type": "quantitative"},
            "y": {"field": "p", "type": "quantitative"},
            "text": {"field": "p", "type": "quantitative", "format": ".2f"}
          }
        }
      ]
    },
    {
      "data": {"values": [
        {"i": 477.9, "p": 73.213},
        {"i": 487.6, "p": 71.648},
        {"i": 600.9, "p": 73.411},
        {"i": 709.9, "p": 70.672}
      ]},
      "mark": {"type": "point", "shape": "M-1,-0.85L1,0.85M-1,0.85L1,-0.85", "size": 1156, "filled": false, "color": "#ec4040", "strokeWidth": 5, "strokeCap": "round", "opacity": 0.92},
      "encoding": {
        "x": {"field": "i", "type": "quantitative"},
        "y": {"field": "p", "type": "quantitative"}
      }
    },
    {
      "data": {"values": [{"i": 611.4, "p": 75.193}]},
      "mark": {"type": "point", "shape": "triangle-down", "size": 90, "filled": true, "color": "#a0a0a0", "opacity": 1},
      "encoding": {
        "x": {"field": "i", "type": "quantitative"},
        "y": {"field": "p", "type": "quantitative"}
      }
    }
  ]
}
